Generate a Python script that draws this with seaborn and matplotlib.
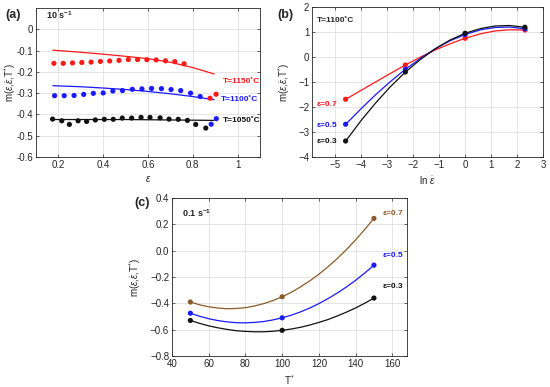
import numpy as np
import matplotlib
matplotlib.use("Agg")
import matplotlib.pyplot as plt
import seaborn as sns

# ---- panel (a): 10 s^-1, m vs strain at three temperatures
a_red_x = [0.180, 0.2215, 0.263, 0.3045, 0.346, 0.3875, 0.429, 0.4705, 0.512, 0.5535, 0.595,
           0.6365, 0.678, 0.7195, 0.761, 0.877, 0.904]
a_red_y = [-0.160, -0.160, -0.158, -0.156, -0.154, -0.151, -0.149, -0.146, -0.142, -0.142, -0.143,
           -0.144, -0.148, -0.152, -0.162, -0.324, -0.305]
a_blue_x = [0.183, 0.226, 0.270, 0.313, 0.356, 0.400, 0.443, 0.486, 0.530, 0.573, 0.616,
            0.660, 0.703, 0.746, 0.790, 0.833, 0.882, 0.905]
a_blue_y = [-0.312, -0.312, -0.311, -0.306, -0.301, -0.299, -0.290, -0.288, -0.282, -0.280, -0.278,
            -0.279, -0.283, -0.288, -0.300, -0.316, -0.446, -0.420]
a_black_x = [0.174, 0.215, 0.249, 0.288, 0.326, 0.365, 0.405, 0.445, 0.485, 0.527, 0.569,
             0.609, 0.654, 0.694, 0.735, 0.776, 0.813, 0.858]
a_black_y = [-0.422, -0.430, -0.447, -0.430, -0.433, -0.426, -0.423, -0.423, -0.417, -0.417, -0.414,
             -0.414, -0.416, -0.422, -0.423, -0.428, -0.447, -0.464]
# fitted lines
a_fit_x = [0.175, 0.3, 0.4, 0.5, 0.6, 0.7, 0.8, 0.895]
a_fit_red = [-0.098, -0.108, -0.117, -0.127, -0.138, -0.155, -0.180, -0.210]
a_fit_blue = [-0.265, -0.270, -0.276, -0.283, -0.292, -0.303, -0.316, -0.331]
a_fit_black = [-0.424, -0.424, -0.424, -0.424, -0.425, -0.426, -0.427, -0.428]

# ---- panel (b): T=1100C, m vs ln(strain rate)
b_x = [-4.605, -2.303, 0.0, 2.303]
b_red = [-1.69, -0.32, 0.75, 1.08]
b_blue = [-2.69, -0.49, 0.90, 1.13]
b_black = [-3.36, -0.60, 0.95, 1.19]
b_curve_x = [-4.6, -4.0, -3.45, -2.9, -2.3, -1.7, -1.15, -0.6, 0.0, 0.6, 1.15, 1.7, 2.3]
b_curve_red = [-1.69, -1.33, -1.00, -0.67, -0.32, 0.01, 0.28, 0.52, 0.75, 0.93, 1.04, 1.09, 1.08]
b_curve_blue = [-2.69, -2.06, -1.51, -1.00, -0.49, -0.04, 0.33, 0.64, 0.90, 1.09, 1.18, 1.20, 1.13]
b_curve_black = [-3.36, -2.53, -1.84, -1.21, -0.60, -0.08, 0.33, 0.67, 0.95, 1.14, 1.24, 1.26, 1.19]

# ---- panel (c): 0.1 s^-1, m vs T*
c_x = [50, 100, 150]
c_e07 = [-0.390, -0.350, 0.245]
c_e05 = [-0.475, -0.510, -0.110]
c_e03 = [-0.530, -0.605, -0.360]
c_curve_x = [50, 55, 60, 65, 70, 75, 80, 85, 90, 95, 100, 105, 110, 115, 120,
             125, 130, 135, 140, 145, 150]
c_curve_e07 = [-0.390, -0.411, -0.426, -0.436, -0.441, -0.439, -0.433, -0.420, -0.402, -0.379,
               -0.350, -0.316, -0.275, -0.230, -0.179, -0.122, -0.060, 0.008, 0.082, 0.161, 0.245]
c_curve_e05 = [-0.475, -0.498, -0.517, -0.531, -0.541, -0.547, -0.548, -0.545, -0.538, -0.526,
               -0.510, -0.490, -0.465, -0.436, -0.402, -0.364, -0.322, -0.276, -0.225, -0.170, -0.110]
c_curve_e03 = [-0.530, -0.552, -0.571, -0.586, -0.598, -0.608, -0.613, -0.616, -0.616, -0.612,
               -0.605, -0.595, -0.582, -0.565, -0.545, -0.523, -0.496, -0.467, -0.435, -0.399, -0.360]

RED = "#ff1a1a"
BLUE = "#1a1aff"
BLACK = "#111111"
BROWN = "#8c5a2a"

sns.set_style("whitegrid")
plt.rcParams["font.family"] = ["Liberation Sans", "DejaVu Sans"]
plt.rcParams["mathtext.fontset"] = "custom"
plt.rcParams["mathtext.rm"] = "Liberation Sans"
plt.rcParams["mathtext.it"] = "Liberation Sans:italic"
plt.rcParams["mathtext.bf"] = "Liberation Sans:bold"

fig = plt.figure(figsize=(5.5, 3.87), dpi=100)
ax_a = fig.add_axes([36/550, 1-157/387, 224/550, 149/387])
ax_b = fig.add_axes([312/550, 1-157/387, 231/550, 150/387])
ax_c = fig.add_axes([172/550, 1-356/387, 235/550, 158/387])

ylab = r"m($\varepsilon$,$\dot{\varepsilon}$,T$^{*}$)"


def style(ax, ylab_x):
    ax.grid(True, color="#e0e0e0", linewidth=0.6)
    for s in ax.spines.values():
        s.set_visible(True)
        s.set_color("#262626")
        s.set_linewidth(0.6)
    ax.tick_params(direction="in", length=2.5, width=0.5, labelsize=7,
                   colors="#262626", pad=2, top=True, right=True,
                   bottom=True, left=True, labeltop=False, labelright=False)
    ax.set_ylabel(ylab, fontsize=7, color="#262626")
    ax.yaxis.set_label_coords(ylab_x, 0.5)


def dots(ax, x, y, color):
    sns.scatterplot(x=x, y=y, color=color, s=14, edgecolor="none", ax=ax, zorder=3)


def curve(ax, x, y, color, lw=0.9):
    sns.lineplot(x=x, y=y, color=color, linewidth=lw, ax=ax, sort=False, zorder=2)


# (a)
dots(ax_a, a_red_x, a_red_y, RED)
dots(ax_a, a_blue_x, a_blue_y, BLUE)
dots(ax_a, a_black_x, a_black_y, BLACK)
curve(ax_a, a_fit_x, a_fit_red, RED)
curve(ax_a, a_fit_x, a_fit_blue, BLUE)
curve(ax_a, a_fit_x, a_fit_black, BLACK)
ax_a.set_xlim(0.1, 1.1)
ax_a.set_ylim(-0.6, 0.1)
ax_a.set_xticks([0.2, 0.4, 0.6, 0.8, 1.0], labels=["0.2", "0.4", "0.6", "0.8", "1"])
ax_a.set_yticks([0, -0.1, -0.2, -0.3, -0.4, -0.5, -0.6],
                labels=["0", "-0.1", "-0.2", "-0.3", "-0.4", "-0.5", "-0.6"])
style(ax_a, -0.08)
ax_a.set_xlabel(r"$\varepsilon$", fontsize=7, color="#262626", labelpad=3)
ax_a.text(0.045, 0.953, r"$\mathbf{10\ s^{-1}}$", transform=ax_a.transAxes,
          fontsize=6.5, va="center", ha="left")
ax_a.text(0.835, 0.51, "T=1150˚C", color=RED, transform=ax_a.transAxes,
          fontsize=6, fontweight="bold", va="center")
ax_a.text(0.826, 0.383, "T=1100˚C", color=BLUE, transform=ax_a.transAxes,
          fontsize=6, fontweight="bold", va="center")
ax_a.text(0.835, 0.248, "T=1050˚C", color=BLACK, transform=ax_a.transAxes,
          fontsize=6, fontweight="bold", va="center")

# (b)
curve(ax_b, b_curve_x, b_curve_red, RED)
curve(ax_b, b_curve_x, b_curve_blue, BLUE)
curve(ax_b, b_curve_x, b_curve_black, BLACK)
dots(ax_b, b_x, b_red, RED)
dots(ax_b, b_x, b_blue, BLUE)
dots(ax_b, b_x, b_black, BLACK)
ax_b.set_xlim(-5.9, 3)
ax_b.set_ylim(-4, 2)
ax_b.set_xticks(range(-5, 4))
ax_b.set_yticks(range(-4, 3))
style(ax_b, -0.087)
ax_b.set_xlabel(r"ln $\dot{\varepsilon}$", fontsize=7, color="#262626", labelpad=3)
ax_b.text(0.02, 0.909, "T=1100˚C", transform=ax_b.transAxes,
          fontsize=6, fontweight="bold", va="center")
ax_b.text(0.02, 0.347, "ε=0.7", color=RED, transform=ax_b.transAxes,
          fontsize=6, fontweight="bold", va="center")
ax_b.text(0.02, 0.209, "ε=0.5", color=BLUE, transform=ax_b.transAxes,
          fontsize=6, fontweight="bold", va="center")
ax_b.text(0.02, 0.102, "ε=0.3", color=BLACK, transform=ax_b.transAxes,
          fontsize=6, fontweight="bold", va="center")

# (c)
curve(ax_c, c_curve_x, c_curve_e07, BROWN)
curve(ax_c, c_curve_x, c_curve_e05, BLUE)
curve(ax_c, c_curve_x, c_curve_e03, BLACK)
dots(ax_c, c_x, c_e07, BROWN)
dots(ax_c, c_x, c_e05, BLUE)
dots(ax_c, c_x, c_e03, BLACK)
ax_c.set_xlim(40, 168)
ax_c.set_ylim(-0.8, 0.4)
ax_c.set_xticks(range(40, 161, 20))
ax_c.set_yticks([-0.8, -0.6, -0.4, -0.2, 0, 0.2, 0.4])
style(ax_c, -0.123)
ax_c.set_xlabel(r"T$^{*}$", fontsize=7, color="#262626", labelpad=3)
ax_c.text(0.041, 0.903, r"$\mathbf{0.1\ s^{-1}}$", transform=ax_c.transAxes,
          fontsize=6.5, va="center", ha="left")
ax_c.text(0.898, 0.899, "ε=0.7", color=BROWN, transform=ax_c.transAxes,
          fontsize=6, fontweight="bold", va="center")
ax_c.text(0.898, 0.639, "ε=0.5", color=BLUE, transform=ax_c.transAxes,
          fontsize=6, fontweight="bold", va="center")
ax_c.text(0.898, 0.443, "ε=0.3", color=BLACK, transform=ax_c.transAxes,
          fontsize=6, fontweight="bold", va="center")

fig.text(0.009, 0.961, "(a)", fontsize=9, fontweight="bold", va="center")
fig.text(0.505, 0.961, "(b)", fontsize=9, fontweight="bold", va="center")
fig.text(0.245, 0.475, "(c)", fontsize=9, fontweight="bold", va="center")

fig.savefig("out.png", dpi=100)
